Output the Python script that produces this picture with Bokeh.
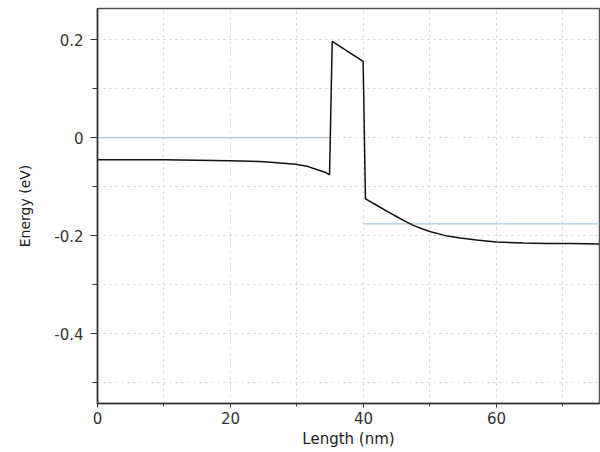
from bokeh.plotting import figure
from bokeh.models import FixedTicker, CustomJSTickFormatter, Range1d
from bokeh.embed import file_html
from bokeh.resources import INLINE
import numpy as np

# Band edge (energy vs length)
length = [0, 5, 10, 15, 20, 23, 25, 27, 29.8, 31.7, 33.2, 34.3, 34.9, 35.3,
          39.95, 40.3, 42, 43.5, 45.1, 46.6, 47.5, 49, 50.1, 51.5, 52.6,
          54.6, 57, 60, 64, 67.6, 71, 75.5]
energy = [-0.045, -0.045, -0.045, -0.046, -0.047, -0.048, -0.049, -0.051,
          -0.054, -0.059, -0.066, -0.071, -0.076, 0.197, 0.156, -0.125,
          -0.138, -0.150, -0.162, -0.173, -0.179, -0.187, -0.192, -0.197,
          -0.201, -0.205, -0.209, -0.213, -0.215, -0.216, -0.216, -0.217]

# Fermi level segments
fermi_x = [0, 34.9, np.nan, 40.0, 75.5]
fermi_y = [0.0, 0.0, np.nan, -0.176, -0.176]

x_major = [0, 20, 40, 60]
x_minor = [10, 30, 50, 70]
y_major = [-0.4, -0.2, 0, 0.2]
y_minor = [-0.5, -0.3, -0.1, 0.1]

p = figure(width=600, height=452, output_backend="svg", toolbar_location=None,
           x_range=Range1d(0, 75.5), y_range=Range1d(-0.543, 0.264),
           min_border_left=97, min_border_right=1, min_border_top=8,
           min_border_bottom=49)
p.background_fill_color = "white"
p.border_fill_color = "white"
p.outline_line_color = "#555555"
p.outline_line_width = 1.5

p.line(fermi_x, fermi_y, line_color="#a9c6d6", line_width=1.2)
p.line(length, energy, line_color="#111111", line_width=1.5)

p.xaxis.ticker = FixedTicker(ticks=x_major, minor_ticks=x_minor)
p.yaxis.ticker = FixedTicker(ticks=y_major, minor_ticks=y_minor)
p.yaxis.formatter = CustomJSTickFormatter(code="return Math.abs(tick) < 1e-9 ? '0' : tick.toFixed(1);")
p.xaxis.formatter = CustomJSTickFormatter(code="return Math.round(tick).toString();")

for g in (p.xgrid, p.ygrid):
    g.grid_line_color = "#cfcfcf"
    g.grid_line_dash = "dotted"
    g.grid_line_width = 1
    g.minor_grid_line_color = "#cfcfcf"
    g.minor_grid_line_dash = "dotted"
    g.minor_grid_line_width = 1

for ax in (p.xaxis, p.yaxis):
    ax.axis_line_color = "#333333"
    ax.axis_line_width = 1.5
    ax.major_tick_line_color = "#333333"
    ax.minor_tick_line_color = "#333333"
    ax.major_tick_in = 0
    ax.minor_tick_in = 0
    ax.major_label_text_font = "DejaVu Sans"
    ax.major_label_text_font_size = "15px"
    ax.major_label_text_color = "#333333"
    ax.axis_label_text_font = "DejaVu Sans"
    ax.axis_label_text_font_style = "normal"
    ax.axis_label_text_color = "#222222"

p.yaxis.major_tick_out = 7
p.yaxis.minor_tick_out = 5
p.yaxis.major_label_standoff = 7
p.xaxis.major_tick_out = 4
p.xaxis.minor_tick_out = 3
p.xaxis.major_label_standoff = 4

p.xaxis.axis_label = "Length (nm)"
p.xaxis.axis_label_text_font_size = "15px"
p.xaxis.axis_label_standoff = 3
p.yaxis.axis_label = "Energy (eV)"
p.yaxis.axis_label_text_font_size = "14px"
p.yaxis.axis_label_standoff = 18

open("out.html", "w").write(file_html(p, INLINE))
